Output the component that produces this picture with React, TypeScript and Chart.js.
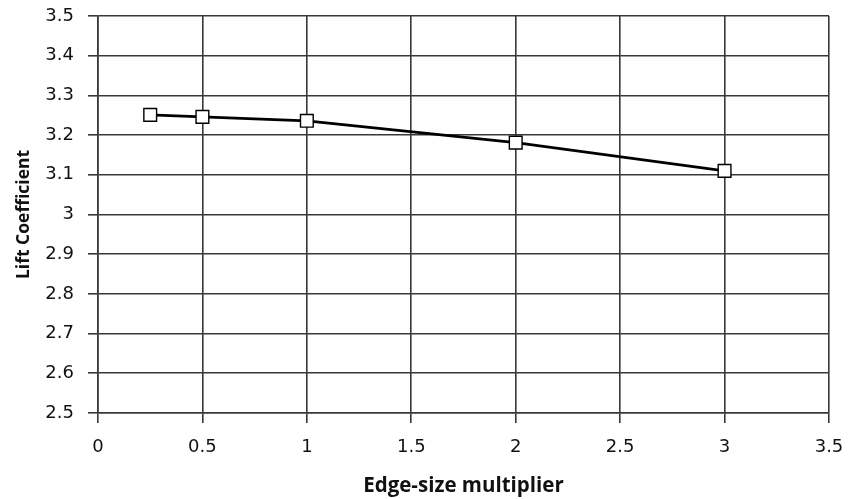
import React, { useEffect, useRef } from "react";
import { Chart, registerables } from "chart.js";

Chart.register(...registerables);

const edgeSizeMultiplier = [0.25, 0.5, 1, 2, 3];
const liftCoefficient = [3.251, 3.246, 3.236, 3.181, 3.11];
const xTitle = "Edge-size multiplier";
const yTitle = "Lift Coefficient";

const fmt = (v: number | string) => String(Math.round(Number(v) * 10) / 10);

const zeroPad = (s: any) => {
  s.paddingTop = 0;
  s.paddingBottom = 0;
  s.paddingLeft = 0;
  s.paddingRight = 0;
};

export default function App() {
  const ref = useRef<HTMLCanvasElement | null>(null);
  useEffect(() => {
    if (!ref.current) return;
    const gridColor = "#383838";
    const chart = new Chart(ref.current, {
      type: "line",
      data: {
        datasets: [
          {
            data: edgeSizeMultiplier.map((x, i) => ({ x, y: liftCoefficient[i] })),
            borderColor: "#000",
            borderWidth: 2.7,
            pointStyle: "rect",
            pointRadius: 9,
            pointBackgroundColor: "#fff",
            pointBorderColor: "#000",
            pointBorderWidth: 1.4,
            fill: false,
            tension: 0,
          },
        ],
      },
      options: {
        responsive: false,
        animation: false,
        layout: { padding: { top: 16, right: 20, left: 0, bottom: 0 } },
        plugins: { legend: { display: false }, tooltip: { enabled: false } },
        scales: {
          x: {
            type: "linear",
            min: 0,
            max: 3.5,
            ticks: {
              stepSize: 0.5,
              callback: (v) => fmt(v),
              font: { family: "DejaVu Sans", size: 18 },
              color: "#111",
              padding: 14,
              maxRotation: 0,
            },
            grid: { color: gridColor, lineWidth: 1.6, tickLength: 10 },
            border: { color: gridColor, width: 1.6 },
            title: {
              display: true,
              text: xTitle,
              font: { family: "Open Sans", size: 20.5, weight: "bold" },
              color: "#111",
              padding: { top: 0, bottom: 1 },
            },
            afterFit: (s: any) => {
              s.height = 86;
              zeroPad(s);
            },
          },
          y: {
            type: "linear",
            min: 2.5,
            max: 3.5,
            ticks: {
              stepSize: 0.1,
              callback: (v) => fmt(v),
              font: { family: "DejaVu Sans", size: 18 },
              color: "#111",
              padding: 14,
            },
            grid: { color: gridColor, lineWidth: 1.6, tickLength: 10 },
            border: { color: gridColor, width: 1.6 },
            title: {
              display: true,
              text: yTitle,
              font: { family: "Open Sans", size: 17.5, weight: "bold" },
              color: "#111",
              padding: { top: 14, bottom: 0 },
            },
            afterFit: (s: any) => {
              s.width = 98;
              zeroPad(s);
            },
          },
        },
      },
    });
    return () => chart.destroy();
  }, []);
  return (
    <div style={{ position: "absolute", left: 0, top: 0, width: 849, height: 499, background: "#fff" }}>
      <canvas ref={ref} width={849} height={499} />
    </div>
  );
}
